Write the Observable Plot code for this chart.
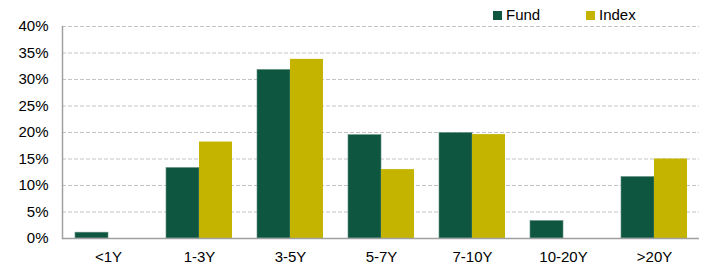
<!DOCTYPE html>
<html>
<head>
<meta charset="utf-8">
<script src="https://cdn.jsdelivr.net/npm/d3@7"></script>
<script src="https://cdn.jsdelivr.net/npm/@observablehq/plot@0.6"></script>
<style>
  body { margin: 0; background: #fff; font-family: "Liberation Sans", Arial, sans-serif; }
  #wrap { position: relative; width: 704px; height: 267px; }
  .legend { position: absolute; top: 6px; font-size: 15px; color: #000; display: flex; align-items: center; line-height: 18px; }
  .sw { width: 9px; height: 9px; display: inline-block; margin-right: 4px; }
</style>
</head>
<body>
<div id="wrap"></div>
<script>
const categories = ["<1Y", "1-3Y", "3-5Y", "5-7Y", "7-10Y", "10-20Y", ">20Y"];
const series = ["Fund", "Index"];
const fundValues = [1.1, 13.3, 31.8, 19.5, 19.9, 3.3, 11.6];
const indexValues = [0, 18.2, 33.8, 13.0, 19.6, 0, 15.0];
const yTicks = [0, 5, 10, 15, 20, 25, 30, 35, 40];
const colors = ["#0F5640", "#C4B400"];

const fundData = categories.map((c, i) => ({cat: c, v: fundValues[i] / 100}));
const indexData = categories.map((c, i) => ({cat: c, v: indexValues[i] / 100}));

const chart = Plot.plot({
  width: 704,
  height: 267,
  marginLeft: 62,
  marginRight: 5,
  marginTop: 26,
  marginBottom: 29,
  style: {fontFamily: "Liberation Sans, Arial, sans-serif", fontSize: "15px", color: "#000", background: "#fff"},
  x: {domain: categories, paddingInner: 0.275, paddingOuter: 0.1375, label: null},
  y: {domain: [0, 0.4], label: null},
  marks: [
    Plot.gridY(yTicks.map(d => d / 100), {stroke: "#c4c4c4", strokeOpacity: 1, strokeDasharray: "4,2"}),
    Plot.barY(fundData, {x: "cat", y: "v", fill: colors[0], insetRight: 33, stroke: "#5f8f80", strokeWidth: 0.6}),
    Plot.barY(indexData.filter(d => d.v > 0), {x: "cat", y: "v", fill: colors[1], insetLeft: 33}),
    Plot.ruleY([0], {stroke: "#a0a0a0", strokeWidth: 1.5}),
    Plot.frame({anchor: "left", stroke: "#a0a0a0", strokeWidth: 1.5}),
    Plot.axisY({ticks: yTicks.map(d => d / 100), tickFormat: d3.format(".0%"), tickSize: 0, tickPadding: 14, label: null, fontSize: 15}),
    Plot.axisX({tickSize: 0, tickPadding: 13, label: null, fontSize: 15})
  ]
});

const wrap = document.getElementById("wrap");
wrap.appendChild(chart);

const legendItems = [{name: series[0], left: 493}, {name: series[1], left: 586}];
legendItems.forEach((it, i) => {
  const d = document.createElement("div");
  d.className = "legend";
  d.style.left = it.left + "px";
  d.innerHTML = `<span class="sw" style="background:${colors[i]}"></span><span>${it.name}</span>`;
  wrap.appendChild(d);
});
</script>
</body>
</html>
